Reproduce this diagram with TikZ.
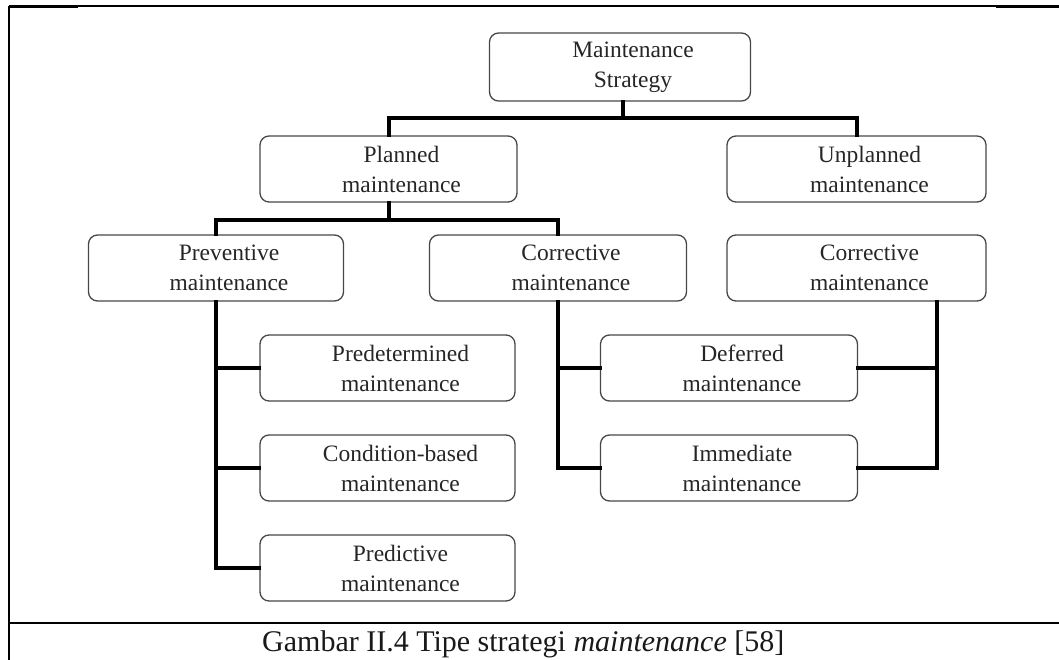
\documentclass[tikz,border=0pt]{standalone}
\usepackage{fontspec}
\setmainfont{Liberation Serif}
\newcommand\boxtext[2]{\hspace*{26pt}#1\\\hspace*{26pt}#2}
\begin{document}
\begin{tikzpicture}[x=1pt,y=-1pt,
  box/.style={draw=black!72,line width=1.3pt,rounded corners=9pt,minimum width=257pt,minimum height=66pt,align=center,inner sep=0pt,font=\fontsize{23.5}{30}\selectfont,text=black!85},
  conn/.style={line width=4pt,black,line cap=rect},
  framethin/.style={line width=1.3pt,black},
  framethick/.style={line width=2.6pt,black}]
\useasboundingbox (0,0) rectangle (1059,660);
% frame
\draw[framethin] (9,6) -- (1059,6);
\draw[framethick] (9,7) -- (78,7);
\draw[framethick] (996,7) -- (1059,7);
\draw[framethick] (9,6) -- (9,660);
\draw[framethick] (9,623) -- (1059,623);
% nodes
\node[box,minimum width=261pt,minimum height=68pt] (ms) at (620,67) {\boxtext{Maintenance}{Strategy}};
\node[box] (planned) at (388.5,169) {\boxtext{Planned}{maintenance}};
\node[box,minimum width=259pt] (unplanned) at (856.5,169) {\boxtext{Unplanned}{maintenance}};
\node[box,minimum width=255pt] (prev) at (216,268) {\boxtext{Preventive}{maintenance}};
\node[box] (corrL) at (558,268) {\boxtext{Corrective}{maintenance}};
\node[box,minimum width=259pt] (corrR) at (856.5,268) {\boxtext{Corrective}{maintenance}};
\node[box,minimum width=255pt] (predet) at (387.5,368) {\boxtext{Predetermined}{maintenance}};
\node[box,minimum width=255pt] (cond) at (387.5,468) {\boxtext{Condition-based}{maintenance}};
\node[box,minimum width=255pt] (pred) at (387.5,568) {\boxtext{Predictive}{maintenance}};
\node[box] (def) at (729,368) {\boxtext{Deferred}{maintenance}};
\node[box] (imm) at (729,468) {\boxtext{Immediate}{maintenance}};
\node[anchor=base west,inner sep=0pt,font=\fontsize{30}{32}\selectfont,text=black!90] (cap) at (262,651) {Gambar II.4 Tipe strategi \textit{maintenance} [58]};
% connectors
\coordinate (bus1) at (0,118);
\coordinate (bus2) at (0,220);
\coordinate (rx) at (937,0);
\draw[conn] ([xshift=3pt]ms.south) -- ([xshift=3pt]ms.south |- bus1);
\draw[conn] (planned.north) -- (planned.north |- bus1) -- (unplanned.north |- bus1) -- (unplanned.north);
\draw[conn] (planned.south) -- (planned.south |- bus2);
\draw[conn] (prev.north) -- (prev.north |- bus2) -- (corrL.north |- bus2) -- (corrL.north);
\draw[conn] (prev.south) -- (prev.south |- pred.west) -- (pred.west);
\draw[conn] (prev.south |- predet.west) -- (predet.west);
\draw[conn] (prev.south |- cond.west) -- (cond.west);
\draw[conn] (corrL.south) -- (corrL.south |- imm.west) -- (imm.west);
\draw[conn] (corrL.south |- def.west) -- (def.west);
\draw[conn] (rx |- corrR.south) -- (rx |- imm.east) -- (imm.east);
\draw[conn] (rx |- def.east) -- (def.east);
\end{tikzpicture}
\end{document}
